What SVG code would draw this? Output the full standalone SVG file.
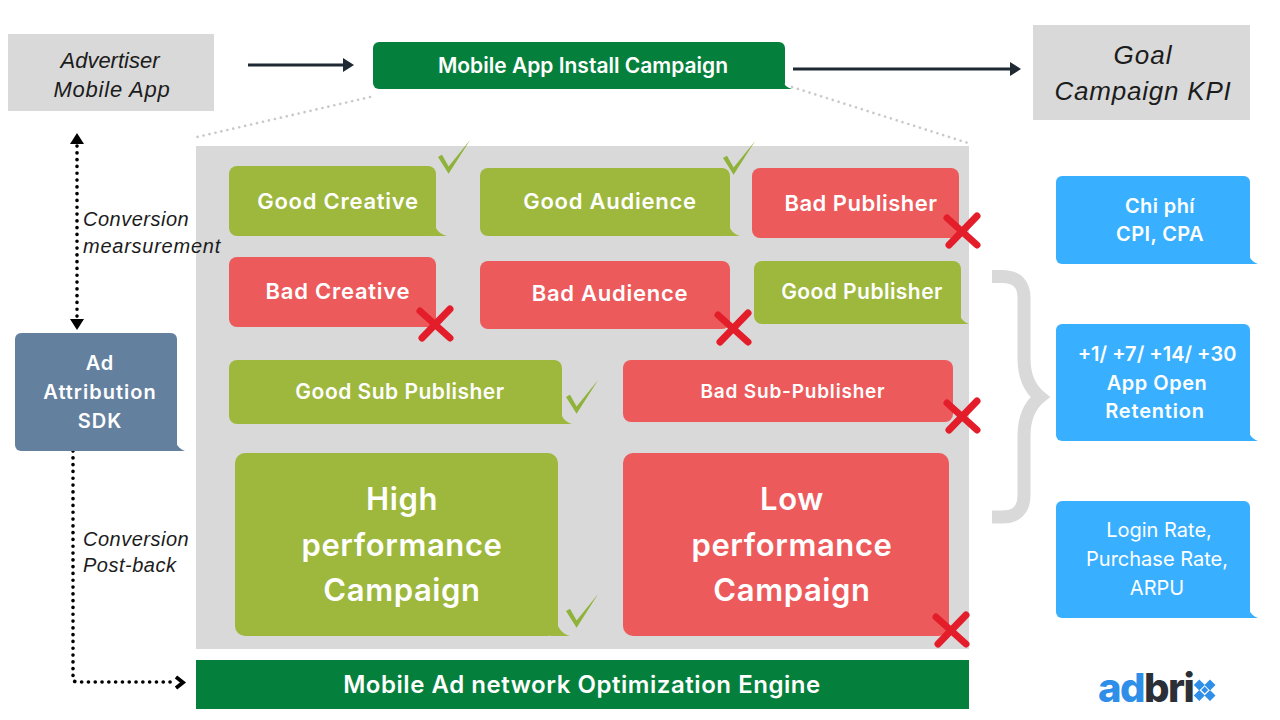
<svg xmlns="http://www.w3.org/2000/svg" width="1280" height="720" viewBox="0 0 1280 720">
<style>
text{font-family:"Inter","Noto Sans","Liberation Sans",sans-serif;fill:#fff;font-weight:600;text-anchor:middle}
.it{font-family:"Liberation Sans",Arial,sans-serif;font-style:italic;font-weight:400;fill:#1c1c1c}
.st{text-anchor:start}
.g{fill:#9db83c}.r{fill:#ec5a5c}.b{fill:#38b0ff}.d{fill:#04803c}.s{fill:#64809f}.p{fill:#d9d9d9}
.x{fill:none;stroke:#e31e2a;stroke-width:7;stroke-linecap:round}
.t22{font-size:22px;letter-spacing:.75px}.t30{font-size:31px;letter-spacing:.6px}.t20{font-size:20px;letter-spacing:.4px}
.t20b{font-size:20px;font-weight:400}
.dot{fill:none;stroke:#000;stroke-width:3.6;stroke-linecap:round;stroke-dasharray:.1 6.7}
.sol{fill:none;stroke:#1f2933;stroke-width:3}
.gd{fill:none;stroke:#c9c9c9;stroke-width:2.6;stroke-linecap:round;stroke-dasharray:.1 6}
</style>
<defs>
<path id="ck" fill="#8fb33a" d="M0 0L4 -2.3L10.6 9.4L32.3 -17.3L10.6 16.7z"/>
<path id="x" class="x" d="M-15 -13L15 14M15 -15L-13 14"/>
</defs>

<g id="panel"><rect class="p" x="196" y="146" width="773" height="503"/></g>

<g id="connectors">
<path class="gd" d="M370 97L197 137"/>
<path class="gd" d="M792 87L968 143"/>
<path class="sol" d="M248 65H345"/><path d="M343 58L354 65L343 72z" fill="#1f2933"/>
<path class="sol" d="M793 69H1012"/><path d="M1010 62L1021 69L1010 76z" fill="#1f2933"/>
<path class="dot" d="M77 146V322"/>
<path d="M70 144L77 133L84 144z" fill="#000"/>
<path d="M70 319H84L77 330z" fill="#000"/>
<path class="dot" d="M73 451V679Q73 682 78 682H176"/>
<path d="M176 677L183 682.5L176 688" fill="none" stroke="#000" stroke-width="3.8"/>
<path d="M992 276.5H1002Q1024 276.5 1024 298V358Q1024 384 1040 397Q1024 410 1024 436V495Q1024 517 1002 517H992" fill="none" stroke="#d9d9d9" stroke-width="13" stroke-miterlimit="8"/>
</g>

<g id="advertiser"><rect class="p" x="8" y="34" width="206" height="77"/>
<text class="it" x="110" y="68" font-size="22">Advertiser</text><text class="it" x="112" y="97" font-size="22" letter-spacing=".8">Mobile App</text></g>
<g id="campaign"><rect class="d" x="373" y="42" width="412" height="47" rx="6"/><path class="d" d="M775 89H792Q785 87 783 82z"/>
<text x="583" y="73" font-size="21">Mobile App Install Campaign</text></g>
<g id="goal"><rect class="p" x="1033" y="25" width="217" height="95"/>
<text class="it" x="1143" y="64" font-size="26" letter-spacing="1">Goal</text><text class="it" x="1143" y="100" font-size="26" letter-spacing=".8">Campaign KPI</text></g>

<g id="good-creative"><rect class="g" x="229" y="166" width="207" height="70" rx="8"/><path class="g" d="M428 236H447Q439 234 436 228z"/><text class="t22" x="338" y="209">Good Creative</text><use href="#ck" x="438" y="157"/></g>
<g id="good-audience"><rect class="g" x="480" y="168" width="250" height="68" rx="8"/><path class="g" d="M722 236H740Q733 234 730 228z"/><text class="t22" x="610" y="209">Good Audience</text><use href="#ck" x="723" y="158"/></g>
<g id="bad-publisher"><rect class="r" x="752" y="168" width="207" height="70" rx="8"/><text class="t22" x="861" y="211" style="letter-spacing:.5px">Bad Publisher</text><use href="#x" x="962" y="231"/></g>
<g id="bad-creative"><rect class="r" x="229" y="257" width="207" height="70" rx="8"/><text class="t22" x="338" y="299">Bad Creative</text><use href="#x" x="435" y="324"/></g>
<g id="bad-audience"><rect class="r" x="480" y="261" width="250" height="68" rx="8"/><text class="t22" x="610" y="301">Bad Audience</text><use href="#x" x="733" y="328"/></g>
<g id="good-publisher"><rect class="g" x="754" y="261" width="207" height="63" rx="8"/><path class="g" d="M953 324H969Q963 322 960 316z"/><text x="862" y="299" font-size="21" letter-spacing=".45">Good Publisher</text></g>
<g id="good-sub"><rect class="g" x="229" y="360" width="333" height="64" rx="8"/><path class="g" d="M554 424H572Q565 422 562 416z"/><text x="400" y="399" font-size="21" letter-spacing=".5">Good Sub Publisher</text><use href="#ck" x="566" y="397"/></g>
<g id="bad-sub"><rect class="r" x="623" y="360" width="330" height="62" rx="8"/><text x="793" y="398" font-size="19" letter-spacing=".8">Bad Sub-Publisher</text><use href="#x" x="962" y="416"/></g>
<g id="high"><rect class="g" x="235" y="453" width="323" height="183" rx="10"/><path class="g" d="M550 636H570Q562 634 558 626z"/><text class="t30" x="402" y="510">High</text><text class="t30" x="402" y="556">performance</text><text class="t30" x="402" y="601">Campaign</text><use href="#ck" x="566" y="611"/></g>
<g id="low"><rect class="r" x="623" y="453" width="326" height="183" rx="10"/><text class="t30" x="792" y="510">Low</text><text class="t30" x="792" y="556">performance</text><text class="t30" x="792" y="601">Campaign</text><use href="#x" x="951" y="630"/></g>
<g id="engine"><rect class="d" x="196" y="660" width="773" height="49"/><text x="582" y="693" font-size="24" letter-spacing=".55">Mobile Ad network Optimization Engine</text></g>

<g id="sdk"><rect class="s" x="15" y="333" width="162" height="118" rx="6"/><path class="s" d="M169 451H185Q179 449 176 443z"/>
<text x="100" y="370" font-size="20" letter-spacing="1">Ad</text><text x="100" y="399" font-size="20" letter-spacing="1">Attribution</text><text x="100" y="428" font-size="20" letter-spacing="1">SDK</text></g>
<g id="labels">
<text class="it st" x="83" y="226" font-size="20" letter-spacing=".5">Conversion</text>
<text class="it st" x="83" y="253" font-size="20" letter-spacing=".75">mearsurement</text>
<text class="it st" x="83" y="546" font-size="20" letter-spacing=".5">Conversion</text>
<text class="it st" x="83" y="572" font-size="20" letter-spacing=".5">Post-back</text>
</g>

<g id="cost"><rect class="b" x="1056" y="176" width="194" height="88" rx="6"/><path class="b" d="M1242 264H1258Q1252 262 1249 256z"/><text class="t20" x="1160" y="213">Chi phí</text><text class="t20" x="1160" y="241">CPI, CPA</text></g>
<g id="retention"><rect class="b" x="1056" y="324" width="194" height="117" rx="6"/><path class="b" d="M1242 441H1258Q1252 439 1249 433z"/><text x="1157" y="361" font-size="20">+1/ +7/ +14/ +30</text><text class="t20" x="1157" y="390" style="letter-spacing:.5px">App Open</text><text class="t20" x="1155" y="418" style="letter-spacing:.8px">Retention</text></g>
<g id="rate"><rect class="b" x="1056" y="501" width="194" height="117" rx="6"/><path class="b" d="M1242 618H1258Q1252 616 1249 610z"/>
<text class="t20b" x="1159" y="537">Login Rate,</text><text class="t20b" x="1157" y="566">Purchase Rate,</text><text class="t20b" x="1157" y="595">ARPU</text></g>

<g id="logo"><text class="st" x="1098" y="702" font-size="40" style="font-weight:800;fill:#2f8fe8;letter-spacing:-1.5px">ad<tspan style="fill:#2b2f38">bri</tspan></text>
<path fill="#2f8fe8" d="M1199.300 679.500l5.500 5.500-5.500 5.500-5.500-5.500zM1210 679.500l5.500 5.500-5.500 5.500-5.500-5.500zM1199.300 690l5.500 5.500-5.500 5.500-5.500-5.500zM1210 690l5.500 5.500-5.500 5.500-5.500-5.500zM1204.700 686.500l3.500 3.500-3.500 3.500-3.500-3.500z"/></g>
</svg>
